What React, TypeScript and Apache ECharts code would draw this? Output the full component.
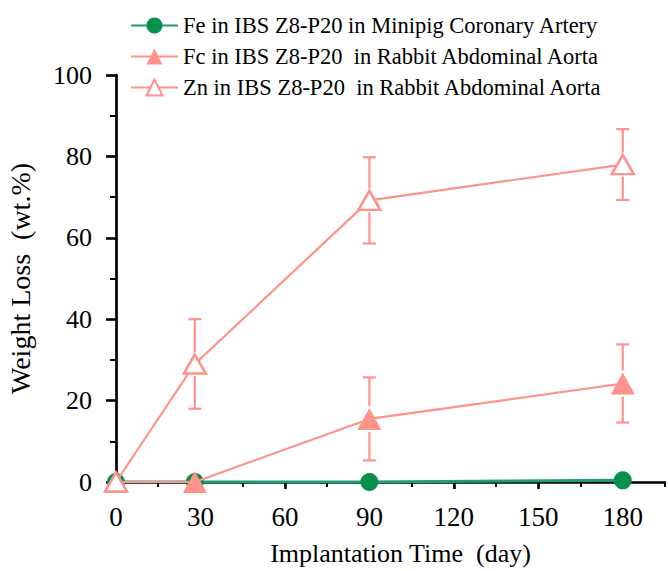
import React, { useEffect, useRef } from "react";
import * as echarts from "echarts";

const days = [0, 28, 90, 180];
const feMinipig = [0, 0, 0, 0.4];
const feRabbit = [0, 0, 15.5, 24.2];
const feRabbitErr = [0, 0, 10.2, 9.6];
const znRabbit = [0, 29, 69.2, 78];
const znRabbitErr = [0, 11, 10.6, 8.7];
const xTickValues = [0, 30, 60, 90, 120, 150, 180];
const seriesNames = [
  "Fe in IBS Z8-P20 in Minipig Coronary Artery",
  "Fc in IBS Z8-P20  in Rabbit Abdominal Aorta",
  "Zn in IBS Z8-P20  in Rabbit Abdominal Aorta",
];

const PINK = "#ff928a";
const GREEN_LINE = "#1e9e72";
const GREEN_MARK = "#05904c";
const FONT = "'Liberation Serif', 'Times New Roman', serif";

function errData(vals: number[], errs: number[]) {
  return days
    .map((d, i) => [d, vals[i] - errs[i], vals[i] + errs[i], vals[i]])
    .filter((_, i) => errs[i] > 0);
}

function makeErrRender(gap: number) {
  return (params: any, api: any) => {
    const x = api.value(0);
    const pLo = api.coord([x, api.value(1)]);
    const pHi = api.coord([x, api.value(2)]);
    const pC = api.coord([x, api.value(3)]);
    const half = 6.5;
    const style = { stroke: PINK, lineWidth: 2.2 };
    return {
      type: "group",
      children: [
        { type: "line", shape: { x1: pC[0], y1: pHi[1], x2: pC[0], y2: pC[1] - gap }, style },
        { type: "line", shape: { x1: pC[0], y1: pC[1] + gap, x2: pC[0], y2: pLo[1] }, style },
        { type: "line", shape: { x1: pC[0] - half, y1: pHi[1], x2: pC[0] + half, y2: pHi[1] }, style },
        { type: "line", shape: { x1: pC[0] - half, y1: pLo[1], x2: pC[0] + half, y2: pLo[1] }, style },
      ],
    };
  };
}

export default function App() {
  const ref = useRef<HTMLDivElement>(null);
  useEffect(() => {
    if (!ref.current) return;
    const chart = echarts.init(ref.current, undefined, { renderer: "svg" });
    const option: any = {
      animation: false,
      backgroundColor: "#fff",
      textStyle: { fontFamily: FONT, color: "#000" },
      grid: { left: 116, right: 3, top: 75, bottom: 89, outerBoundsMode: "none" },
      legend: {
        orient: "vertical",
        left: 125,
        top: 9,
        itemWidth: 47,
        itemHeight: 20,
        itemGap: 8,
        textStyle: { fontFamily: FONT, fontSize: 22.5, color: "#000", padding: [0, 0, 0, 0] },
        data: seriesNames,
      },
      xAxis: [
        {
          type: "value",
          position: "bottom",
          min: 0,
          max: 195,
          interval: 15,
          axisLine: { show: true, lineStyle: { color: "#000", width: 2.7 } },
          axisTick: { show: true, length: 5, lineStyle: { color: "#000", width: 2 } },
          axisLabel: { show: false },
          splitLine: { show: false },
        },
        {
          type: "value",
          position: "bottom",
          min: 0,
          max: 195,
          interval: 15,
          axisLine: { show: false },
          axisTick: { show: true, length: 7, customValues: xTickValues, lineStyle: { color: "#000", width: 2.6 } },
          axisLabel: {
            customValues: xTickValues,
            fontFamily: FONT,
            fontSize: 27,
            color: "#000",
            margin: 21,
          },
          splitLine: { show: false },
          name: "Implantation Time  (day)",
          nameLocation: "middle",
          nameGap: 58,
          nameTextStyle: { fontFamily: FONT, fontSize: 26, color: "#000", padding: [0, 0, 0, 20] },
        },
      ],
      yAxis: {
        type: "value",
        min: 0,
        max: 100,
        interval: 20,
        axisLine: { show: true, lineStyle: { color: "#000", width: 2.7 } },
        axisTick: { show: true, length: 10, lineStyle: { color: "#000", width: 2.6 } },
        minorTick: { show: true, splitNumber: 2, length: 6, lineStyle: { color: "#000", width: 2 } },
        axisLabel: { fontFamily: FONT, fontSize: 26, color: "#000", margin: 24 },
        splitLine: { show: false },
        name: "Weight Loss  (wt.%)",
        nameLocation: "middle",
        nameGap: 82,
        nameRotate: 90,
        nameTextStyle: { fontFamily: FONT, fontSize: 28, color: "#000" },
      },
      series: [
        {
          name: "errFe",
          type: "custom",
          xAxisIndex: 0,
          renderItem: makeErrRender(13),
          data: errData(feRabbit, feRabbitErr),
          encode: { x: 0, y: [1, 2] },
          z: 1,
        },
        {
          name: "errZn",
          type: "custom",
          xAxisIndex: 0,
          renderItem: makeErrRender(12),
          data: errData(znRabbit, znRabbitErr),
          encode: { x: 0, y: [1, 2] },
          z: 1,
        },
        {
          name: seriesNames[0],
          type: "line",
          xAxisIndex: 0,
          data: days.map((d, i) => [d, feMinipig[i]]),
          symbol: "circle",
          symbolSize: 18,
          lineStyle: { color: GREEN_LINE, width: 3 },
          itemStyle: { color: GREEN_MARK },
          z: 2,
        },
        {
          name: seriesNames[1],
          type: "line",
          xAxisIndex: 0,
          data: days.map((d, i) => [d, feRabbit[i]]),
          symbol: "triangle",
          symbolSize: [24, 22],
          lineStyle: { color: PINK, width: 2.2 },
          itemStyle: { color: PINK },
          z: 3,
        },
        {
          name: seriesNames[2],
          type: "line",
          xAxisIndex: 0,
          data: days.map((d, i) => [d, znRabbit[i]]),
          symbol: "triangle",
          symbolSize: [22, 19],
          lineStyle: { color: PINK, width: 2.2 },
          itemStyle: { color: "#fff", borderColor: PINK, borderWidth: 2.5 },
          z: 4,
        },
      ],
    };
    chart.setOption(option);
    return () => chart.dispose();
  }, []);
  return (
    <div
      ref={ref}
      style={{ position: "absolute", left: 0, top: 0, width: 668, height: 571 }}
    />
  );
}
